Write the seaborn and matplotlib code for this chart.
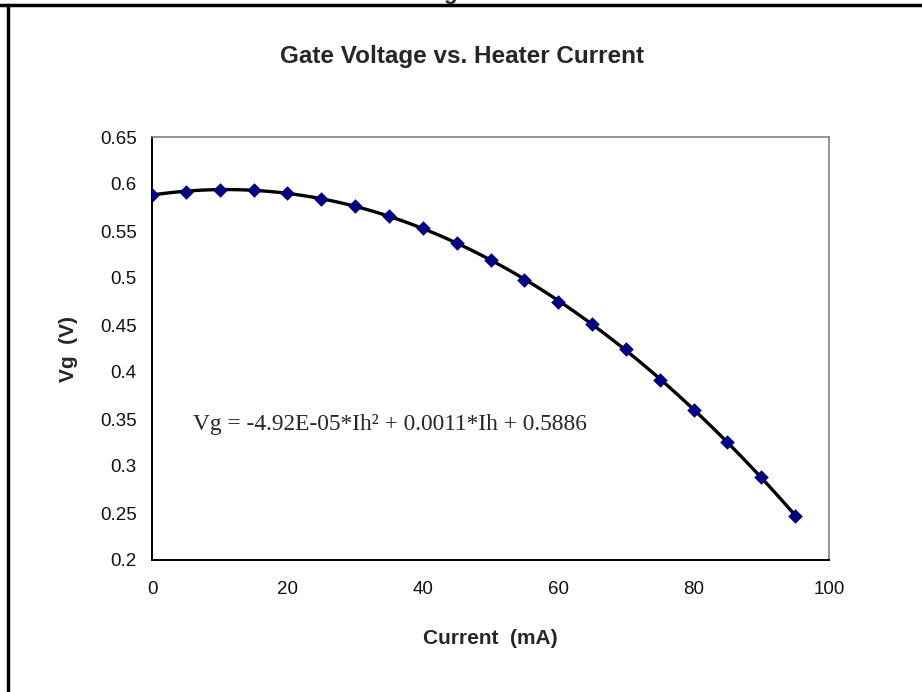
"""Gate voltage vs. heater current, with a 2nd-order trendline (Excel style)."""
import numpy as np
import pandas as pd
import matplotlib
matplotlib.use("Agg")
import matplotlib.pyplot as plt
from matplotlib.lines import Line2D
import seaborn as sns

# ---- data -------------------------------------------------------------------
current_ma = [0, 5, 10, 15, 20, 25, 30, 35, 40, 45,
              50, 55, 60, 65, 70, 75, 80, 85, 90, 95]
gate_v = [0.588, 0.592, 0.594, 0.594, 0.590, 0.584, 0.577, 0.566, 0.553, 0.537,
          0.519, 0.498, 0.475, 0.451, 0.424, 0.392, 0.360, 0.326, 0.288, 0.247]
x_ticks = [0, 20, 40, 60, 80, 100]
y_ticks = [0.2, 0.25, 0.3, 0.35, 0.4, 0.45, 0.5, 0.55, 0.6, 0.65]
equation = "Vg = -4.92E-05*Ih² + 0.0011*Ih + 0.5886"

df = pd.DataFrame({"current": current_ma, "vg": gate_v})

sns.set_style("white")
plt.rcParams["font.family"] = ["Liberation Sans", "DejaVu Sans"]

fig = plt.figure(figsize=(9.22, 6.92), dpi=100)
ax = fig.add_axes([152 / 922, 1 - 560 / 692, 677 / 922, 423 / 692])

# trendline (polynomial order 2) + markers
sns.regplot(data=df, x="current", y="vg", order=2, ci=None, scatter=False,
            color="black", line_kws={"linewidth": 2.4}, ax=ax)
sns.scatterplot(data=df, x="current", y="vg", marker="D", s=55, color="#000080",
                edgecolor="#000080", linewidth=0, zorder=3, ax=ax)

ax.set_xlim(0, 100)
ax.set_ylim(0.2, 0.65)
ax.set_xticks(x_ticks)
ax.set_yticks(y_ticks)
ax.set_yticklabels([f"{v:g}" for v in y_ticks])
ax.tick_params(axis="both", direction="out", length=5, width=1.2, color="black",
               labelsize=13.5, labelcolor="#111111", pad=6)
ax.tick_params(axis="x", pad=10)

for side in ("left", "bottom"):
    ax.spines[side].set_color("black")
    ax.spines[side].set_linewidth(1.4)
for side in ("top", "right"):
    ax.spines[side].set_color("#808080")
    ax.spines[side].set_linewidth(1.2)

ax.set_xlabel("Current  (mA)", fontsize=15, fontweight="bold")
ax.set_ylabel("Vg  (V)", fontsize=15, fontweight="bold")
ax.xaxis.set_label_coords(0.5, -0.162)
ax.yaxis.set_label_coords(-0.11, 0.5)

ax.text(6, 0.344, equation, family=["Liberation Serif", "DejaVu Serif"],
        fontsize=16.8, ha="left", va="center")

fig.text(462 / 922, 1 - 57 / 692, "Gate Voltage vs. Heater Current",
         fontsize=17.5, fontweight="bold", ha="center", va="center")

# frame lines of the surrounding chart object and the cut-off text above it
fig.add_artist(Line2D([0, 1], [1 - 5 / 692, 1 - 5 / 692], color="black", linewidth=2.5))
fig.add_artist(Line2D([8 / 922, 8 / 922], [0, 1 - 5 / 692], color="black", linewidth=2.5))
fig.text(450 / 922, 1 + 1 / 692, "g", fontsize=16, fontweight="bold",
         ha="center", va="baseline")

fig.savefig("out.png", dpi=100, facecolor="white")
